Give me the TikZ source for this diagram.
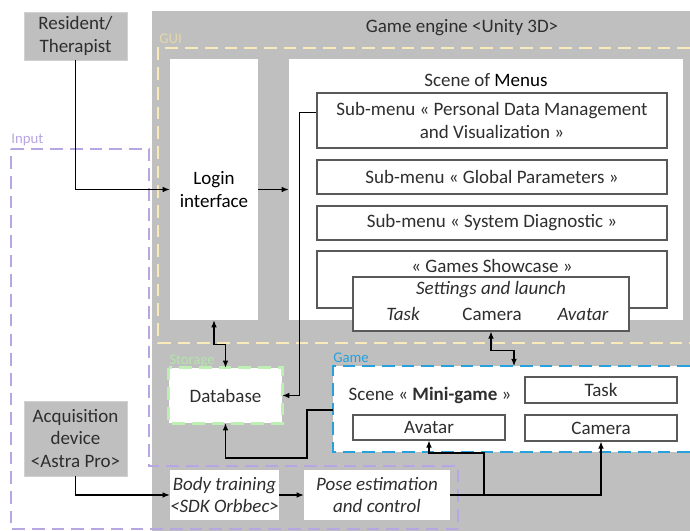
\documentclass[tikz,border=0pt]{standalone}
\usepackage{fontspec}
\setmainfont{Carlito}
\usetikzlibrary{arrows.meta,positioning}

\definecolor{enginegrey}{RGB}{191,191,191}
\definecolor{boxedge}{RGB}{89,89,89}
\definecolor{guiyellow}{RGB}{248,234,185}
\definecolor{storegreen}{RGB}{190,240,180}
\definecolor{gameblue}{RGB}{40,160,220}
\definecolor{inputpurple}{RGB}{182,166,226}

\begin{document}
\begin{tikzpicture}[
  x=0.025cm, y=-0.025cm,
  >={Latex[length=5pt,width=4pt]},
  font=\fontsize{13.5}{15.8}\selectfont,
  text=black!82,
  size/.style 2 args={minimum width=#1*0.025cm, minimum height=#2*0.025cm, inner sep=0pt},
  wbox/.style={draw=boxedge, line width=0.8pt, fill=white, align=center},
  panel/.style={fill=white, align=center},
  gbox/.style={fill=enginegrey, draw=white!82!black, line width=0.6pt, align=center},
  link/.style={draw=black, line width=0.8pt},
  frame/.style={line width=2pt, dash pattern=on 9pt off 5pt},
  tag/.style={font=\fontsize{10.5}{12}\selectfont, anchor=base west, inner sep=0pt}
]
\useasboundingbox (0,0) rectangle (690,531);

% Game engine background
\fill[enginegrey] (152,11) rectangle (690,531);
\node (engine) at (462,28) {Game engine <Unity 3D>};

% Input frame
\draw[frame, inputpurple] (11,149) -- (149,149) -- (149,466) -- (458,466) -- (458,529) -- (11,529) -- cycle;
\node[tag, text=inputpurple] (inputtag) at (11,144) {Input};

% GUI frame
\draw[frame, guiyellow] (690,48) -- (158,48) -- (158,343) -- (690,343);
\node[tag, text=guiyellow!92!black] (guitag) at (159,44) {GUI};

% Actors
\node[gbox, size={103}{48}] (res) at (75.5,36) {Resident/\\Therapist};
\node[gbox, size={103}{75}] (acq) at (75.5,438.5) {Acquisition\\device\\<Astra Pro>};

% Login and menus
\node[panel, size={88}{261}, text=black] (login) at (214,189.5) {Login\\interface};
\node[panel, size={394}{261}] (menus) at (486,189.5) {};
\node (menustitle) at (486,80) {Scene of \textcolor{black}{Menus}};
\node[wbox, size={350}{55}] (pdm) at (492,120.5) {Sub-menu « Personal Data Management\\and Visualization »};
\node[wbox, size={350}{34}] (glob) at (492,177) {Sub-menu « Global Parameters »};
\node[wbox, size={350}{34}] (diag) at (492,223) {Sub-menu « System Diagnostic »};
\node[wbox, size={350}{57}] (show) at (492,279.5) {};
\node (showtitle) at (492,266) {« Games Showcase »};
\node[wbox, size={276}{54}] (settings) at (491,304) {};
\node (setlaunch) at (491,290) {\itshape Settings and launch};
\node (settask) at (403,314) {\itshape Task};
\node (setcam) at (492,314) {Camera};
\node (setavatar) at (583,314) {\itshape Avatar};

% Storage
\node[panel, size={113}{55}] (db) at (225.5,395.5) {Database};
\draw[frame, storegreen] (db.north west) rectangle (db.south east);
\node[tag, text=storegreen!95!black] (storetag) at (169,364) {Storage};

% Game
\fill[white] (333,366) rectangle (690,452);
\draw[frame, gameblue] (690,366) -- (333,366) -- (333,452) -- (690,452);
\node[tag, text=gameblue] (gametag) at (333,362) {Game};
\node (mini) at (430,395) {Scene « \textbf{Mini-game} »};
\node[wbox, size={152}{26}] (task) at (601,390) {Task};
\node[wbox, size={152}{25}] (avatar) at (429,427.5) {Avatar};
\node[wbox, size={152}{26}] (camera) at (601,428) {Camera};
\coordinate (gtop) at (514,366);
\coordinate (gleft) at (333,410);

% Body tracking chain
\node[panel, size={109}{50}] (body) at (224.5,495) {\itshape Body training\\\itshape <SDK Orbbec>};
\node[panel, size={146}{50}] (pose) at (377,495) {\itshape Pose estimation\\\itshape and control};
\coordinate (split) at (484,495);

% Connectors
\draw[link,->] (res.south) |- (login.west);
\draw[link,->] (login.east) -- (menus.west);
\draw[link,->] ([yshift=0.2cm]pdm.west) -- ++(-17,0) |- (db.east);
\draw[link,<->] (login.south) -- ++(0,24) -| (db.north);
\draw[link,<->] (settings.south) -- ++(0,19) -| (gtop);
\draw[link,->] (gleft) -- ++(-26,0) -- ++(0,48) -| (db.south);
\draw[link,->] (acq.south) |- (body.west);
\draw[link,->] (body.east) -- (pose.west);
\draw[link,->] (pose.east) -| (camera.south);
\draw[link,->] (split) -- ++(0,-42) -| (avatar.south);

\end{tikzpicture}
\end{document}
